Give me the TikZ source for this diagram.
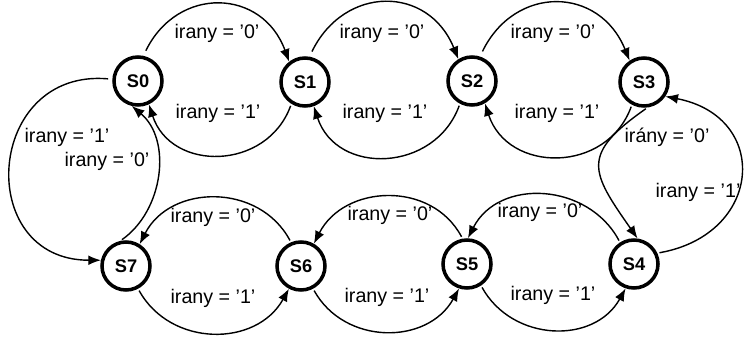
\documentclass[tikz,border=0pt]{standalone}
\usepackage{tikz}
\usepackage{xcolor}
\usepackage{fontspec}
\setmainfont{Liberation Sans}
\usetikzlibrary{arrows.meta}

\begin{document}
\begin{tikzpicture}[line width=1pt,
  state/.style={draw,circle,line width=2.5pt,minimum size=1.2cm,inner sep=0pt,
    font=\fontsize{13}{15}\selectfont\bfseries},
  edge/.style={-{Latex[length=9pt,width=7pt]}},
  lbl/.style={font=\fontsize{14}{16}\selectfont,inner sep=0pt}]
  \useasboundingbox (0,0) rectangle (18.625,8.475);
  % states
  \node[state] (s0) at (3.45,6.45) {S0};
  \node[state] (s1) at (7.625,6.425) {S1};
  \node[state] (s2) at (11.8,6.45) {S2};
  \node[state] (s3) at (16.1,6.425) {S3};
  \node[state] (s7) at (3.15,1.825) {S7};
  \node[state] (s6) at (7.525,1.825) {S6};
  \node[state] (s5) at (11.675,1.875) {S5};
  \node[state] (s4) at (15.85,1.875) {S4};
  % upper row, forward
  \draw[edge,shorten <=4pt] (s0.78) to[out=64,in=110,looseness=1.37] (s1.128);
  \draw[edge,shorten <=4pt] (s1.80) to[out=64,in=112,looseness=1.37] (s2.122);
  \draw[edge,shorten <=4pt] (s2.72) to[out=64,in=112,looseness=1.37] (s3.124);
  \node[lbl] at (5.425,7.65) {irany = '0'};
  \node[lbl] at (9.55,7.65) {irany = '0'};
  \node[lbl] at (13.825,7.65) {irany = '0'};
  % upper row, backward
  \draw[edge,shorten <=1.5pt] (s1.238) to[out=250,in=-72,looseness=1.28] (s0.295);
  \draw[edge,shorten <=1.5pt] (s2.242) to[out=250,in=-72,looseness=1.28] (s1.290);
  \draw[edge,shorten <=1.5pt] (s3.242) to[out=250,in=-72,looseness=1.28] (s2.300);
  \node[lbl] at (5.45,5.65) {irany = '1'};
  \node[lbl] at (9.625,5.65) {irany = '1'};
  \node[lbl] at (13.925,5.65) {irany = '1'};
  % lower row, forward
  \draw[edge,shorten <=1.5pt] (s6.113) to[out=118,in=63,looseness=1.14] (s7.58);
  \draw[edge,shorten <=1.5pt] (s5.100) to[out=118,in=63,looseness=1.14] (s6.60);
  \draw[edge,shorten <=1.5pt] (s4.123) to[out=118,in=63,looseness=1.14] (s5.88);
  \node[lbl] at (5.325,3.05) {irany = '0'};
  \node[lbl] at (9.75,3.1) {irany = '0'};
  \node[lbl] at (13.5,3.175) {irany = '0'};
  % lower row, backward
  \draw[edge,shorten <=1.5pt] (s7.298) to[out=-61,in=-119,looseness=1.14] (s6.242);
  \draw[edge,shorten <=1.5pt] (s6.298) to[out=-61,in=-119,looseness=1.14] (s5.252);
  \draw[edge,shorten <=1.5pt] (s5.303) to[out=-61,in=-119,looseness=1.14] (s4.251);
  \node[lbl] at (5.325,1.025) {irany = '1'};
  \node[lbl] at (9.675,1.05) {irany = '1'};
  \node[lbl] at (13.825,1.1) {irany = '1'};
  % left side
  \draw[edge,shorten <=3pt] (s0.176) to[out=175,in=180,looseness=1.8] (s7.167);
  \draw[edge,shorten <=1.5pt] (s7.103) to[out=35,in=-40,looseness=1.0] (s0.256);
  \node[lbl] at (1.675,5.05) {irany = '1'};
  \node[lbl] at (2.675,4.45) {irany = '0'};
  % right side
  \draw[edge,shorten <=1.5pt] (s3.278) to[out=215,in=125,looseness=1.6] (s4.82);
  \draw[edge,shorten <=1.5pt] (s4.25) to[out=10,in=-11,looseness=1.75] (s3.-34);
  \node[lbl] at (16.675,5.05) {irány = '0'};
  \node[lbl] at (17.45,3.675) {irany = '1'};
\end{tikzpicture}
\end{document}
